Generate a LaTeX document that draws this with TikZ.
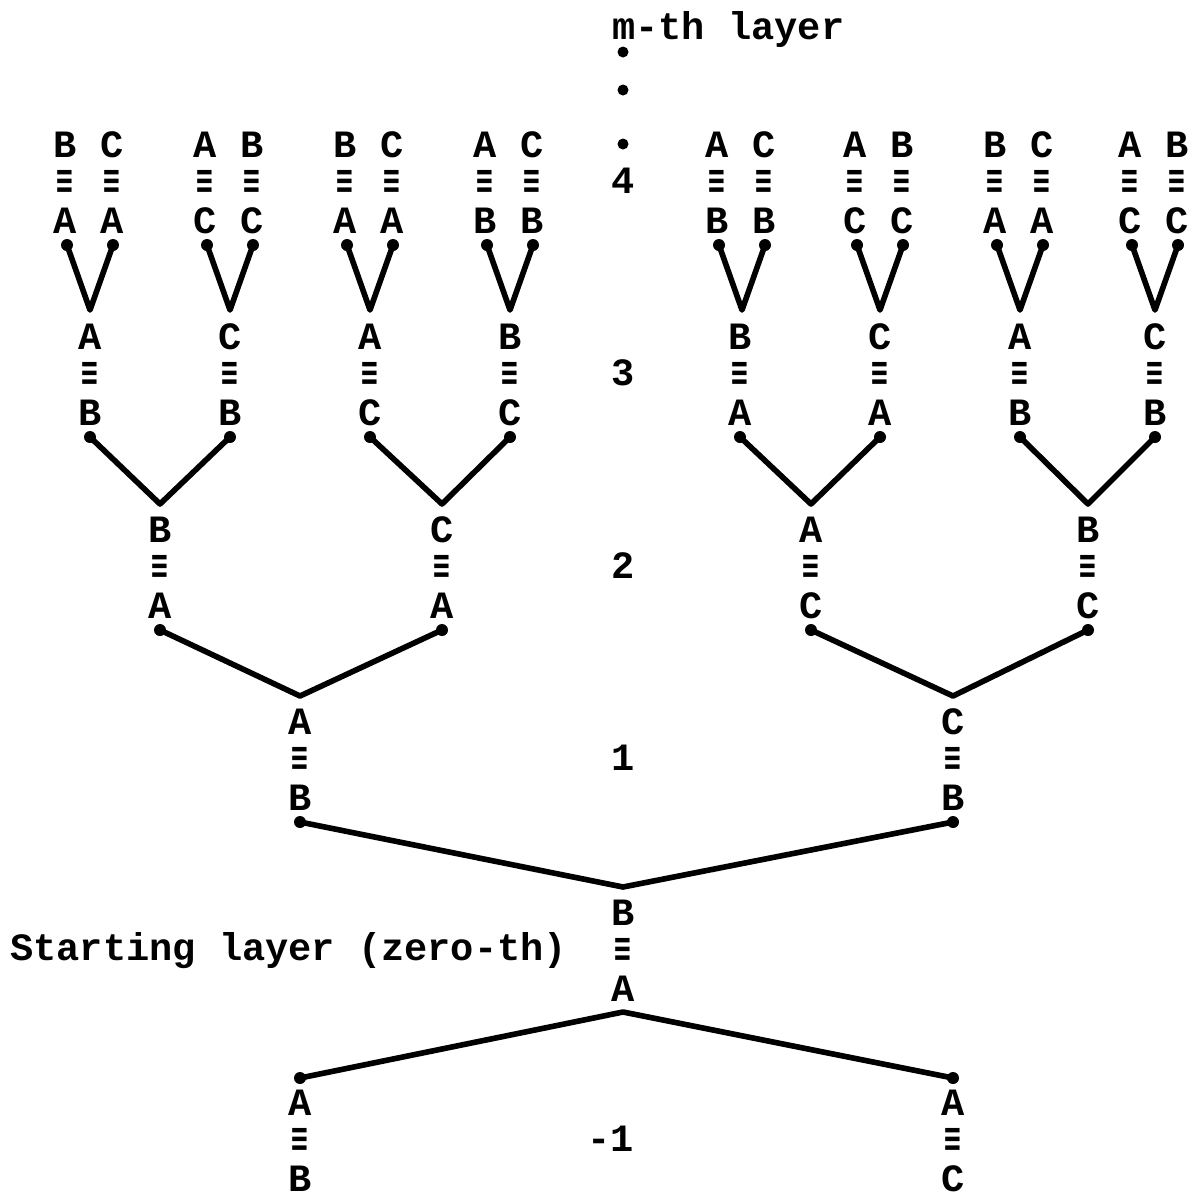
\documentclass[tikz,border=0pt]{standalone}
\usepackage{fontspec}
\usepackage{graphicx}
\newfontfamily\typew{Liberation Mono}
\newfontfamily\eqfont{DejaVu Sans Mono}
\newcommand\eqv{{\eqfont\bfseries\scalebox{0.72}[1.0]{≡}}}
\newcommand\mystack[5]{% name, x, ytop, top letter, bottom letter
  \node[lab] (#1t) at (#2,#3) {#4};
  \node[lab] (#1e) at (#2,#3+37) {\eqv};
  \node[lab] (#1b) at (#2,#3+76) {#5};
}
\newcommand\myvee[6]{% name, vertex x, vertex y, left x, right x, dot y
  \coordinate (#1v) at (#2,#3);
  \coordinate (#1l) at (#4,#6);
  \coordinate (#1r) at (#5,#6);
  \draw[edge] (#1l) -- (#1v) -- (#1r);
  \fill (#1l) circle[radius=0.12cm];
  \fill (#1r) circle[radius=0.12cm];
}
\newcommand\topvee[7]{% name, vertex x, left top, left bottom, right top, right bottom
  \myvee{#1}{#2}{310}{#2-23}{#2+23}{245}
  \mystack{#1a}{#2-25}{145}{#3}{#4}
  \mystack{#1b}{#2+22}{145}{#5}{#6}
}
\begin{document}
\begin{tikzpicture}[x=0.02cm,y=-0.02cm,
  lab/.style={font=\typew\bfseries\fontsize{22}{26}\selectfont, inner sep=0pt},
  txt/.style={font=\typew\bfseries\fontsize{22}{26}\selectfont, inner sep=0pt},
  edge/.style={line width=3.2pt, line cap=round, line join=round}]
\useasboundingbox (0,0) rectangle (1188,1198);

% title and vertical dots
\node[txt, anchor=base west] (mth) at (612,39) {m-th layer};
\coordinate (e1) at (623,52);
\coordinate (e2) at (623,90);
\coordinate (e3) at (623,144);
\foreach \c in {e1,e2,e3} \fill (\c) circle[radius=0.11cm];

% layer numbers
\node[lab] (n4) at (623,181) {4};
\node[lab] (n3) at (623,373) {3};
\node[lab] (n2) at (623,566) {2};
\node[lab] (n1) at (623,758) {1};
\node[lab, anchor=east] (nm1) at (634,1139) {-1};
\node[txt, anchor=base west] (start) at (10,960) {Starting layer (zero-th)};

% layer 4 (top pairs) and their vees
\topvee{g1}{90}{B}{A}{C}{A}{}
\topvee{g2}{230}{A}{C}{B}{C}{}
\topvee{g3}{370}{B}{A}{C}{A}{}
\topvee{g4}{510}{A}{B}{C}{B}{}
\topvee{g5}{742}{A}{B}{C}{B}{}
\topvee{g6}{880}{A}{C}{B}{C}{}
\topvee{g7}{1020}{B}{A}{C}{A}{}
\topvee{g8}{1155}{A}{C}{B}{C}{}

% layer 3
\mystack{t1}{90}{337}{A}{B}
\mystack{t2}{230}{337}{C}{B}
\mystack{t3}{370}{337}{A}{C}
\mystack{t4}{510}{337}{B}{C}
\mystack{t5}{740}{337}{B}{A}
\mystack{t6}{880}{337}{C}{A}
\mystack{t7}{1020}{337}{A}{B}
\mystack{t8}{1155}{337}{C}{B}
\myvee{h1}{160}{504}{90}{230}{437}
\myvee{h2}{442}{504}{370}{510}{437}
\myvee{h3}{811}{504}{740}{880}{437}
\myvee{h4}{1088}{504}{1020}{1155}{437}

% layer 2
\mystack{s1}{160}{530}{B}{A}
\mystack{s2}{442}{530}{C}{A}
\mystack{s3}{811}{530}{A}{C}
\mystack{s4}{1088}{530}{B}{C}
\myvee{k1}{300}{696}{160}{442}{630}
\myvee{k2}{953}{696}{811}{1088}{630}

% layer 1
\mystack{r1}{300}{722}{A}{B}
\mystack{r2}{953}{722}{C}{B}
\myvee{m1}{623}{887}{300}{953}{822}

% layer 0
\mystack{z0}{623}{913}{B}{A}
\myvee{q1}{623}{1012}{300}{953}{1078}

% layer -1
\mystack{u1}{300}{1103}{A}{B}
\mystack{u2}{953}{1103}{A}{C}
\end{tikzpicture}
\end{document}
